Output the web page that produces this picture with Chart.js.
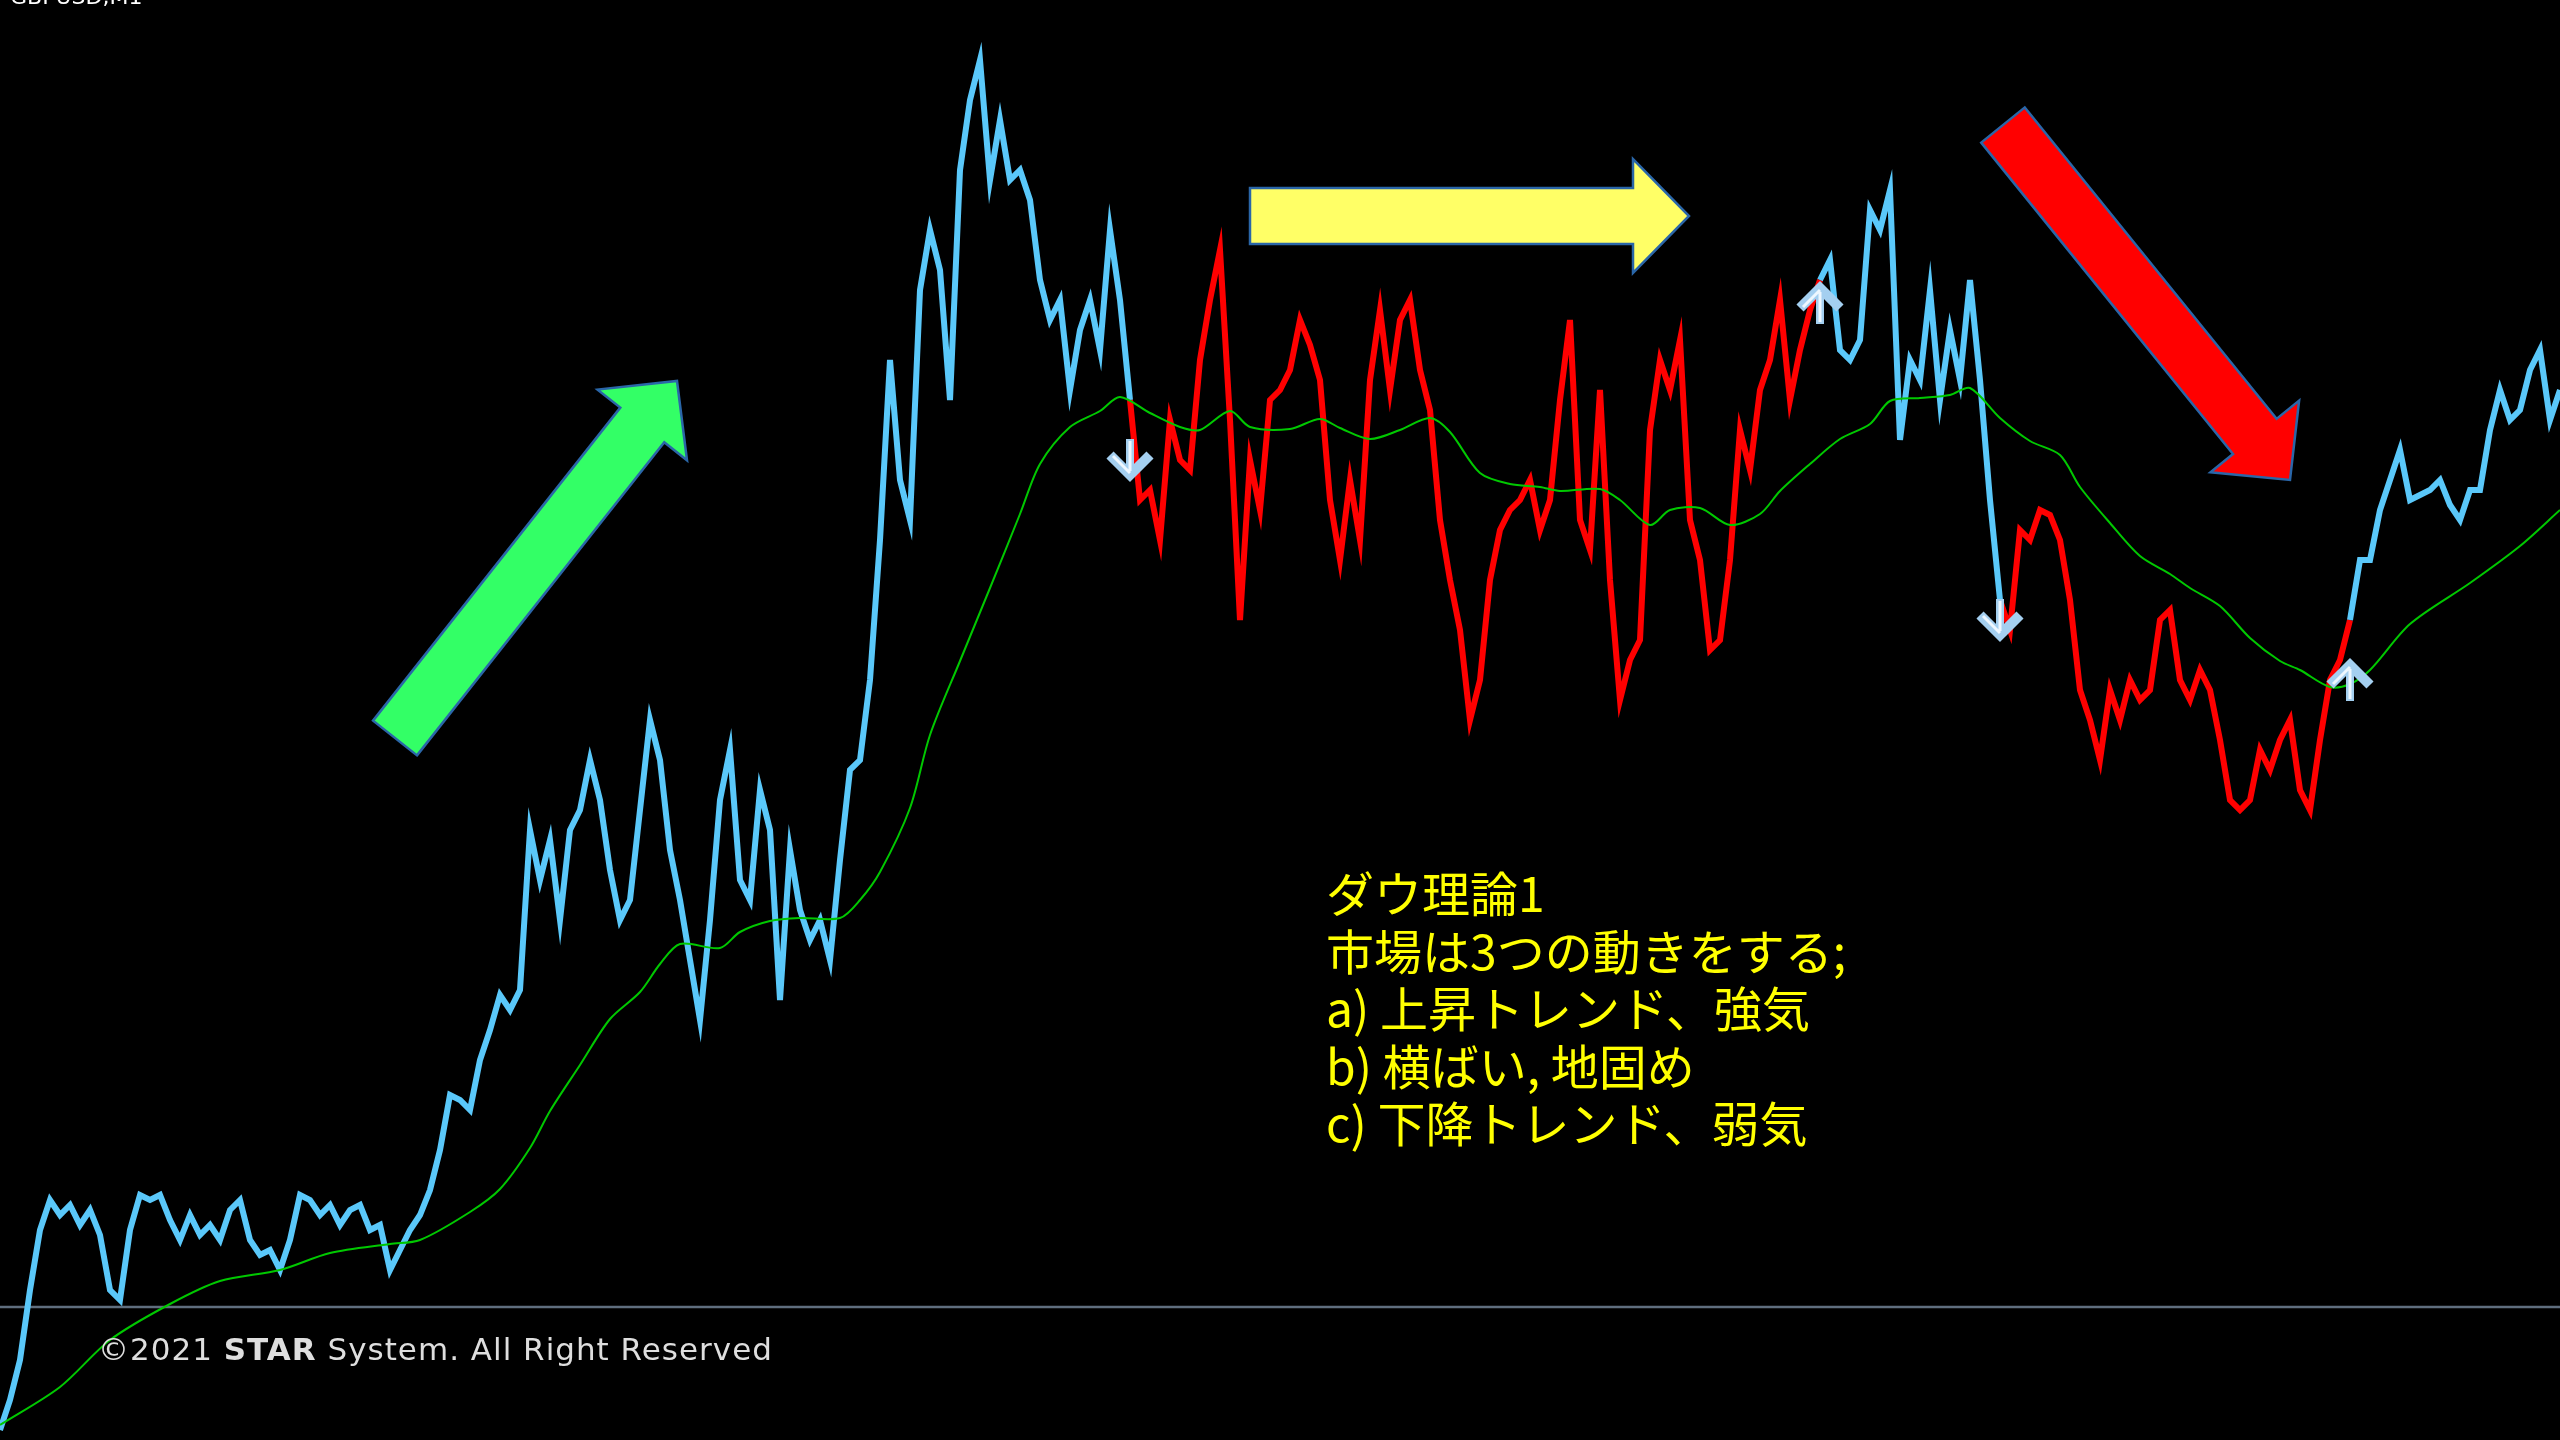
<!DOCTYPE html>
<html>
<head>
<meta charset="utf-8">
<script src="https://cdn.jsdelivr.net/npm/chart.js@4.4.1/dist/chart.umd.min.js"></script>
<style>
html, body { margin: 0; padding: 0; background: #000; }
canvas { display: block; }
</style>
</head>
<body>
<canvas id="myChart" width="2560" height="1440"></canvas>
<script>
// GBPUSD M1 closes, in points above the low of the window (one value per bar step)
var closes = [
	10, 40, 80, 150, 210, 240, 225, 235, 215, 230,
	205, 150, 140, 210, 245, 240, 245, 220, 200, 225,
	205, 215, 200, 230, 240, 200, 185, 190, 170, 200,
	245, 240, 225, 235, 215, 230, 235, 210, 215, 170,
	190, 210, 225, 250, 290, 345, 340, 330, 380, 410,
	445, 430, 450, 610, 560, 600, 520, 610, 630, 680,
	640, 570, 520, 540, 630, 720, 680, 590, 540, 480,
	420, 520, 640, 690, 560, 540, 650, 610, 440, 590,
	530, 500, 520, 480, 580, 670, 680, 760, 900, 1080,
	960, 920, 1150, 1210, 1170, 1040, 1270, 1340, 1380, 1260,
	1320, 1260, 1270, 1240, 1160, 1120, 1140, 1050, 1110, 1140,
	1090, 1210, 1140, 1040, 940, 950, 900, 1020, 980, 970,
	1080, 1140, 1190, 1020, 820, 980, 930, 1040, 1050, 1070,
	1120, 1095, 1060, 940, 880, 960, 900, 1060, 1130, 1050,
	1120, 1140, 1070, 1030, 920, 860, 810, 720, 760, 860,
	910, 930, 940, 960, 910, 940, 1040, 1120, 920, 890,
	1050, 860, 740, 780, 800, 1010, 1080, 1050, 1100, 920,
	880, 790, 800, 880, 1010, 970, 1050, 1080, 1140, 1040,
	1090, 1130, 1160, 1180, 1090, 1080, 1100, 1230, 1210, 1250,
	1000, 1080, 1060, 1150, 1040, 1110, 1060, 1160, 1060, 940,
	840, 810, 910, 900, 930, 925, 900, 840, 750, 720,
	680, 750, 720, 760, 740, 750, 820, 830, 760, 740,
	770, 750, 700, 640, 630, 640, 690, 670, 700, 720,
	650, 630, 700, 760, 780, 820, 880, 880, 930, 960,
	990, 940, 945, 950, 960, 935, 920, 950, 950, 1010,
	1050, 1020, 1030, 1070, 1090, 1020, 1050
]

// moving average, read at these bars
var maBars = [
	0, 6, 11, 17, 22, 28, 33, 39, 42, 47,
	50, 53, 55, 58, 61, 64, 66, 68, 72, 74,
	77, 80, 84, 86, 88, 91, 93, 96, 99, 102,
	104, 107, 110, 112, 115, 118, 120, 123, 125, 129,
	132, 134, 137, 140, 143, 145, 148, 151, 154, 156,
	160, 162, 165, 167, 170, 173, 176, 178, 181, 184,
	187, 189, 192, 195, 197, 200, 203, 206, 208, 211,
	214, 217, 219, 222, 225, 228, 230, 233, 235, 237,
	241, 247, 252, 256
]
var maValues = [
	15, 53, 100, 136, 159, 170, 187, 196, 200, 228,
	251, 292, 329, 375, 421, 448, 476, 496, 492, 508,
	519, 522, 522, 540, 568, 632, 705, 779, 852, 926,
	976, 1013, 1029, 1043, 1027, 1013, 1010, 1029, 1013, 1011,
	1021, 1012, 1001, 1010, 1022, 1008, 967, 956, 953, 949,
	951, 940, 915, 930, 932, 915, 926, 949, 976, 1001,
	1016, 1039, 1042, 1045, 1052, 1022, 999, 985, 953, 917,
	884, 866, 852, 834, 802, 779, 770, 753, 756, 770,
	816, 857, 894, 930
]

// indicator signals
var signalBars = [113, 182, 200, 235]
var signalSides = ['sell', 'buy', 'sell', 'buy']
var signalLevels = [980, 1137, 820, 760]

// horizontal line object
var lineLevel = 133

var noteLines = ['ダウ理論1', '市場は3つの動きをする;', 'a) 上昇トレンド、強気', 'b) 横ばい, 地固め', 'c) 下降トレンド、弱気']

var trendArrows = [
	{ from: [39.5, 702], to: [67.7, 1059], fill: '#33ff66' },
	{ from: [125, 1224], to: [168.9, 1224], fill: '#ffff66' },
	{ from: [200.3, 1315], to: [229, 960], fill: '#ff0000' }
]

var upColor = '#5ac8fa'
var downColor = '#ff0000'

function sideAt(i) {
	var s = 'buy'
	for (var k = 0; k < signalBars.length; k++) {
		if (i >= signalBars[k]) s = signalSides[k]
	}
	return s
}

function makeMarker(up) {
	var c = document.createElement('canvas')
	c.width = 50
	c.height = 50
	var g = c.getContext('2d')
	if (up) {
		g.translate(0, 50)
		g.scale(1, -1)
	}
	g.lineCap = 'butt'
	g.lineJoin = 'miter'
	g.strokeStyle = '#a4cff0'
	g.lineWidth = 10
	g.beginPath()
	g.moveTo(5, 20)
	g.lineTo(25, 40)
	g.lineTo(45, 20)
	g.stroke()
	g.lineWidth = 8
	g.beginPath()
	g.moveTo(25, 4)
	g.lineTo(25, 40)
	g.stroke()
	g.strokeStyle = '#eef7ff'
	g.lineWidth = 3
	g.beginPath()
	g.moveTo(8, 21)
	g.lineTo(25, 38)
	g.moveTo(25, 6)
	g.lineTo(25, 36)
	g.stroke()
	return c
}
var sellMarker = makeMarker(false)
var buyMarker = makeMarker(true)

var overlay = {
	id: 'overlay',
	afterDatasetsDraw: function (chart) {
		var c = chart.ctx
		var xs = chart.scales.x
		var ys = chart.scales.y
		trendArrows.forEach(function (a) {
			var x0 = xs.getPixelForValue(a.from[0]), y0 = ys.getPixelForValue(a.from[1])
			var x1 = xs.getPixelForValue(a.to[0]), y1 = ys.getPixelForValue(a.to[1])
			var dx = x1 - x0, dy = y1 - y0
			var len = Math.sqrt(dx * dx + dy * dy)
			var ux = dx / len, uy = dy / len
			var nx = -uy, ny = ux
			var sw = 28, hw = 57, hl = 56
			var bx = x1 - ux * hl, by = y1 - uy * hl
			c.save()
			c.beginPath()
			c.moveTo(x0 + nx * sw, y0 + ny * sw)
			c.lineTo(bx + nx * sw, by + ny * sw)
			c.lineTo(bx + nx * hw, by + ny * hw)
			c.lineTo(x1, y1)
			c.lineTo(bx - nx * hw, by - ny * hw)
			c.lineTo(bx - nx * sw, by - ny * sw)
			c.lineTo(x0 - nx * sw, y0 - ny * sw)
			c.closePath()
			c.fillStyle = a.fill
			c.fill()
			c.lineWidth = 2.5
			c.strokeStyle = '#2a66a8'
			c.stroke()
			c.restore()
		})
	},
	afterDraw: function (chart) {
		var c = chart.ctx
		c.save()
		c.textBaseline = 'alphabetic'
		c.fillStyle = '#ffffff'
		c.font = '22px "DejaVu Sans"'
		c.fillText('GBPUSD,M1', 10, 4)

		c.fillStyle = '#ffff00'
		c.font = '48px "Noto Sans CJK JP"'
		noteLines.forEach(function (t, i) {
			c.fillText(t, 1326, 912 + i * 57.5)
		})

		c.fillStyle = '#dedede'
		c.letterSpacing = '1px'
		var x = 98
		var parts = [['©2021 ', ''], ['STAR', 'bold '], [' System. All Right Reserved', '']]
		parts.forEach(function (p) {
			c.font = p[1] + '31px "DejaVu Sans"'
			c.fillText(p[0], x, 1360)
			x += c.measureText(p[0]).width
		})
		c.restore()
	}
}

var ctx = document.getElementById('myChart')

var priceData = closes.map(function (v, i) { return { x: i, y: v } })
var maData = maBars.map(function (b, i) { return { x: b, y: maValues[i] } })
var signalData = signalBars.map(function (b, i) { return { x: b, y: signalLevels[i] } })
var lineData = [{ x: 0, y: lineLevel }, { x: closes.length - 1, y: lineLevel }]

var chart = new Chart(ctx, {
	type: 'line',
	data: {
		datasets: [{
			label: 'signals',
			data: signalData,
			showLine: false,
			pointStyle: function (c) { return signalSides[c.dataIndex] === 'buy' ? buyMarker : sellMarker },
			pointRadius: 25,
		}, {
			label: 'MA',
			data: maData,
			borderColor: '#00c800',
			borderWidth: 2,
			pointRadius: 0,
			tension: 0.3,
		}, {
			label: 'GBPUSD',
			data: priceData,
			borderWidth: 6,
			pointRadius: 0,
			borderJoinStyle: 'miter',
			borderColor: upColor,
			segment: {
				borderColor: function (c) { return sideAt(c.p0DataIndex) === 'buy' ? upColor : downColor },
			},
		}, {
			label: 'line',
			data: lineData,
			borderColor: '#5f6e7e',
			borderWidth: 2.5,
			pointRadius: 0,
		}]
	},
	options: {
		responsive: false,
		devicePixelRatio: 1,
		animation: false,
		events: [],
		layout: { padding: 0, autoPadding: false },
		plugins: { legend: { display: false }, tooltip: { enabled: false } },
		scales: {
			x: { type: 'linear', min: 0, max: closes.length - 1, display: false },
			y: { min: 0, max: 1440, display: false },
		},
	},
	plugins: [overlay]
})
</script>
</body>
</html>
